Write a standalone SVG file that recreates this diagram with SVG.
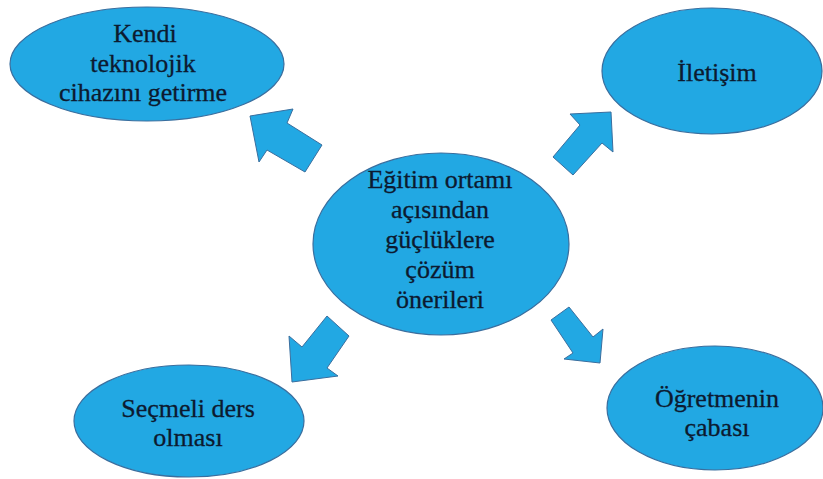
<svg xmlns="http://www.w3.org/2000/svg" width="823" height="479" viewBox="0 0 823 479" font-family="'Liberation Serif', 'DejaVu Serif', serif">
<style>
.node{fill:#22A8E3;stroke:#3A6E9E;stroke-width:1.2}
.arrow{fill:#22A8E3;stroke:#3A6E9E;stroke-width:1}
.t{font-family:'Liberation Serif','DejaVu Serif',serif;font-size:26px;fill:#0c1a30;text-anchor:middle;stroke:#0c1a30;stroke-width:0.3}
</style>
<rect width="823" height="479" fill="#ffffff"/>
<g id="connectors">
<polygon class="arrow" points="250,116 293,109 287,123 322,145 305,172 267,150 259,162"/>
<polygon class="arrow" points="611,112 570,114 580,125 553,157 573,175 602,143 613,152"/>
<polygon class="arrow" points="292,382 289,336 302,347 327,316 349,336 327,368 338,376"/>
<polygon class="arrow" points="600,363 603,329 593,337 569,307 551,320 573,353 564,359"/>
</g>
<g id="center">
<ellipse class="node" cx="441" cy="244" rx="128" ry="91"/>
<text class="t" x="440" y="188">Eğitim ortamı</text>
<text class="t" x="440" y="218">açısından</text>
<text class="t" x="440" y="248">güçlüklere</text>
<text class="t" x="440" y="278">çözüm</text>
<text class="t" x="440" y="308">önerileri</text>
</g>
<g id="kendi">
<ellipse class="node" cx="147" cy="64" rx="137" ry="57"/>
<text class="t" x="145" y="42">Kendi</text>
<text class="t" x="143" y="72">teknolojik</text>
<text class="t" x="143" y="101">cihazını getirme</text>
</g>
<g id="iletisim">
<ellipse class="node" cx="712" cy="71" rx="110" ry="63"/>
<text class="t" x="717" y="81">İletişim</text>
</g>
<g id="secmeli">
<ellipse class="node" cx="189" cy="421" rx="115" ry="56"/>
<text class="t" x="188" y="417">Seçmeli ders</text>
<text class="t" x="188" y="446">olması</text>
</g>
<g id="ogretmen">
<ellipse class="node" cx="715" cy="408" rx="108" ry="62"/>
<text class="t" x="717" y="407">Öğretmenin</text>
<text class="t" x="717" y="436">çabası</text>
</g>
</svg>
